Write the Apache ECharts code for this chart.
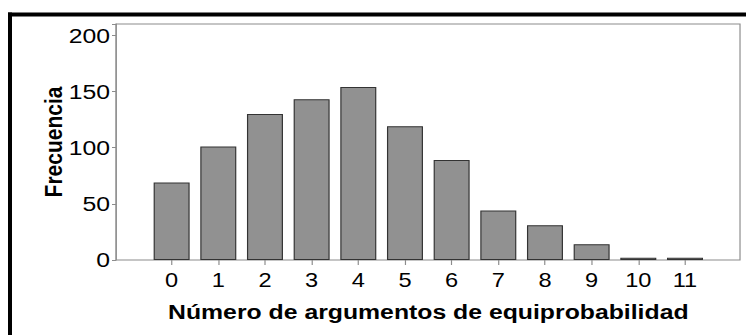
<!DOCTYPE html>
<html>
<head>
<meta charset="utf-8">
<script src="https://cdn.jsdelivr.net/npm/echarts@6/dist/echarts.min.js"></script>
<style>
  html, body { margin: 0; padding: 0; background: #fff; overflow: hidden; }
  /* la figura original esta estirada a lo ancho: se dibuja a 632px y se escala */
  #main { width: 632px; height: 335px; transform: scaleX(1.1804); transform-origin: 0 0; }
</style>
</head>
<body>
<div id="main"></div>
<script>
    var categorias = ['0', '1', '2', '3', '4', '5', '6', '7', '8', '9', '10', '11'];
    var frecuencias = [69, 101, 130, 143, 154, 119, 89, 44, 31, 14, 2, 2];
    var yTicks = [0, 50, 100, 150, 200];

    var esc = 746 / 632;   // estiramiento horizontal
    var gris = '#8c8c8c';
    var fuente = 'Liberation Sans, Arial, sans-serif';

    function px(x) { return x / esc; }

    var myChart = echarts.init(document.getElementById('main'), null, {renderer: 'svg'});

    var option = {
        animation: false,
        backgroundColor: '#fff',
        graphic: [
            // marco negro (arriba e izquierda)
            {type: 'line', shape: {x1: px(8), y1: 14.5, x2: 632, y2: 14.5}, style: {stroke: '#000', lineWidth: 4}},
            {type: 'rect', shape: {x: px(8), y: 12.5, width: px(4), height: 323}, style: {fill: '#000'}}
        ],
        grid: [
            {   // caja del grafico y eje y
                left: px(116), right: 632 - px(740), top: 24, bottom: 75,
                show: true, borderColor: gris, borderWidth: 1, backgroundColor: 'transparent'
            },
            {   // barras
                left: px(148.3), right: 632 - px(708.3), top: 24, bottom: 75
            }
        ],
        xAxis: [
            {gridIndex: 0, type: 'value', min: 0, max: 1, show: false},
            {
                gridIndex: 1,
                type: 'category',
                data: categorias,
                axisLine: {show: false},
                axisTick: {show: true, alignWithLabel: true, length: 5, lineStyle: {color: gris}},
                axisLabel: {fontSize: 20, color: '#000', fontFamily: fuente, margin: 10, interval: 0},
                name: 'Número de argumentos de equiprobabilidad',
                nameLocation: 'middle',
                nameGap: 41,
                nameTextStyle: {fontSize: 21, fontWeight: 'bold', color: '#000', fontFamily: fuente}
            }
        ],
        yAxis: [
            {
                gridIndex: 0,
                type: 'value',
                min: 0, max: 210, interval: 50,
                axisLine: {show: true, lineStyle: {color: gris}},
                axisTick: {show: true, length: px(4), lineStyle: {color: gris}},
                splitLine: {show: false},
                axisLabel: {
                    fontSize: 21, color: '#000', fontFamily: fuente, margin: px(6),
                    formatter: function (v) { return yTicks.indexOf(v) >= 0 ? v : ''; }
                },
                name: 'Frecuencia',
                nameLocation: 'middle',
                nameRotate: 90,
                nameGap: px(50),
                nameMoveOverlap: false,
                nameTextStyle: {fontSize: 21, fontWeight: 'bold', color: '#000', fontFamily: fuente}
            },
            {gridIndex: 1, type: 'value', min: 0, max: 210, show: false}
        ],
        series: [{
            type: 'bar',
            xAxisIndex: 1,
            yAxisIndex: 1,
            data: frecuencias,
            barWidth: px(36),
            itemStyle: {color: '#919191', borderColor: '#333', borderWidth: 1}
        }]
    };

    myChart.setOption(option);
</script>
</body>
</html>
